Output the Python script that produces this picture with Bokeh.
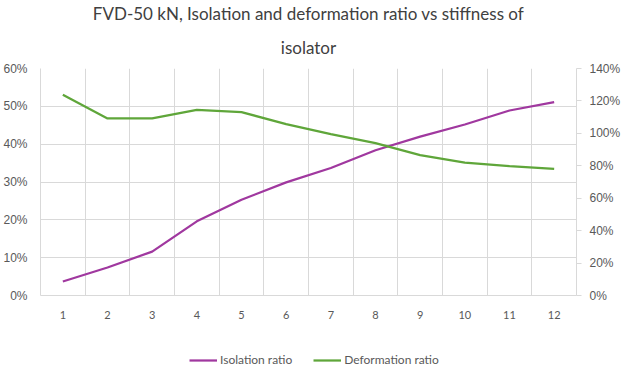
from bokeh.plotting import figure
from bokeh.models import (Range1d, LinearAxis, FixedTicker, NumeralTickFormatter,
                          Legend, LegendItem, Title, Grid)
from bokeh.layouts import column
from bokeh.embed import file_html
from bokeh.resources import INLINE

categories = ["1", "2", "3", "4", "5", "6", "7", "8", "9", "10", "11", "12"]
isolation_ratio = [0.037, 0.074, 0.116, 0.196, 0.253, 0.299, 0.337, 0.384, 0.420, 0.452, 0.489, 0.511]
deformation_ratio = [1.238, 1.092, 1.092, 1.145, 1.131, 1.057, 0.995, 0.940, 0.866, 0.820, 0.798, 0.781]
series_names = ["Isolation ratio", "Deformation ratio"]
left_ticks = [0, 0.1, 0.2, 0.3, 0.4, 0.5, 0.6]
right_ticks = [0, 0.2, 0.4, 0.6, 0.8, 1.0, 1.2, 1.4]

x = list(range(1, len(categories) + 1))

PURPLE = "#A0389F"
GREEN = "#5FA63A"
GRID = "#D9D9D9"
TXT = "#595959"

p = figure(frame_width=536, frame_height=227, output_backend="svg", toolbar_location=None,
           x_range=Range1d(0.5, len(categories) + 0.5), y_range=Range1d(0, 0.6),
           min_border_left=32, min_border_right=44, min_border_top=67, min_border_bottom=28)
p.extra_y_ranges = {"right": Range1d(0, 1.4)}
p.outline_line_color = None
p.background_fill_color = "white"
p.border_fill_color = "white"

# titles
p.title.text = "FVD-50 kN, Isolation and deformation ratio vs stiffness of"
p.title.align = "center"
p.title.text_font = "Lato"
p.title.text_font_size = "17px"
p.title.text_font_style = "normal"
p.title.text_color = "#404040"
p.title.standoff = 0
t2 = Title(text="isolator", align="center", standoff=22,
           text_font="Lato", text_font_size="17px", text_font_style="normal", text_color="#404040")
p.add_layout(t2, "above")

# x axis
xa = p.xaxis[0]
xa.ticker = FixedTicker(ticks=x)
xa.major_label_overrides = {i: c for i, c in zip(x, categories)}
xa.major_label_text_font = "Lato"
xa.major_label_text_font_size = "11px"
xa.major_label_text_color = TXT
xa.axis_line_color = GRID
xa.major_tick_line_color = None
xa.major_tick_out = 0
xa.major_tick_in = 0
xa.minor_tick_line_color = None
xa.major_label_standoff = 15

# left axis
ya = p.yaxis[0]
ya.ticker = FixedTicker(ticks=left_ticks)
ya.formatter = NumeralTickFormatter(format="0%")
ya.major_label_text_font = "Liberation Sans"
ya.major_label_text_font_size = "12px"
ya.major_label_text_color = TXT
ya.axis_line_color = GRID
ya.major_tick_line_color = None
ya.major_tick_out = 0
ya.major_tick_in = 0
ya.minor_tick_line_color = None
ya.major_label_standoff = 13

# right axis
ra = LinearAxis(y_range_name="right", ticker=FixedTicker(ticks=right_ticks),
                formatter=NumeralTickFormatter(format="0%"))
ra.major_label_text_font = "Liberation Sans"
ra.major_label_text_font_size = "12px"
ra.major_label_text_color = TXT
ra.axis_line_color = GRID
ra.major_tick_line_color = GRID
ra.major_tick_out = 5
ra.major_tick_in = 0
ra.minor_tick_line_color = None
ra.major_label_standoff = 8
p.add_layout(ra, "right")

# grids
p.xgrid.grid_line_color = None
p.ygrid.grid_line_color = GRID
p.ygrid.ticker = FixedTicker(ticks=left_ticks)
vgrid = Grid(dimension=0, ticker=FixedTicker(ticks=[i + 0.5 for i in range(0, len(categories) + 1)]),
             grid_line_color=GRID)
p.add_layout(vgrid)

p.line(x, isolation_ratio, line_color=PURPLE, line_width=2.25)
p.line(x, deformation_ratio, line_color=GREEN, line_width=2.25, y_range_name="right")

# legend strip below the chart (its lines lie outside the strip's visible range)
lg = figure(width=612, height=48, output_backend="svg", toolbar_location=None,
            x_range=Range1d(100, 101), y_range=Range1d(100, 101),
            min_border_left=0, min_border_right=0, min_border_top=0, min_border_bottom=0)
lg.axis.visible = False
lg.grid.visible = False
lg.outline_line_color = None
lg.border_fill_color = "white"
lr1 = lg.line(x, isolation_ratio, line_color=PURPLE, line_width=2.25)
lr2 = lg.line(x, deformation_ratio, line_color=GREEN, line_width=2.25)
legend = Legend(items=[LegendItem(label=series_names[0], renderers=[lr1]),
                       LegendItem(label=series_names[1], renderers=[lr2])],
                orientation="horizontal", location=(149, 4))
legend.label_text_font = "Lato"
legend.label_text_font_size = "12px"
legend.label_text_color = TXT
legend.border_line_color = None
legend.background_fill_alpha = 0
legend.glyph_width = 28
legend.glyph_height = 14
legend.label_height = 14
legend.spacing = 21
legend.margin = 0
legend.padding = 0
legend.label_standoff = 3
lg.add_layout(legend, "center")

layout = column(p, lg, spacing=0)
open("out.html", "w").write(file_html(layout, INLINE))
